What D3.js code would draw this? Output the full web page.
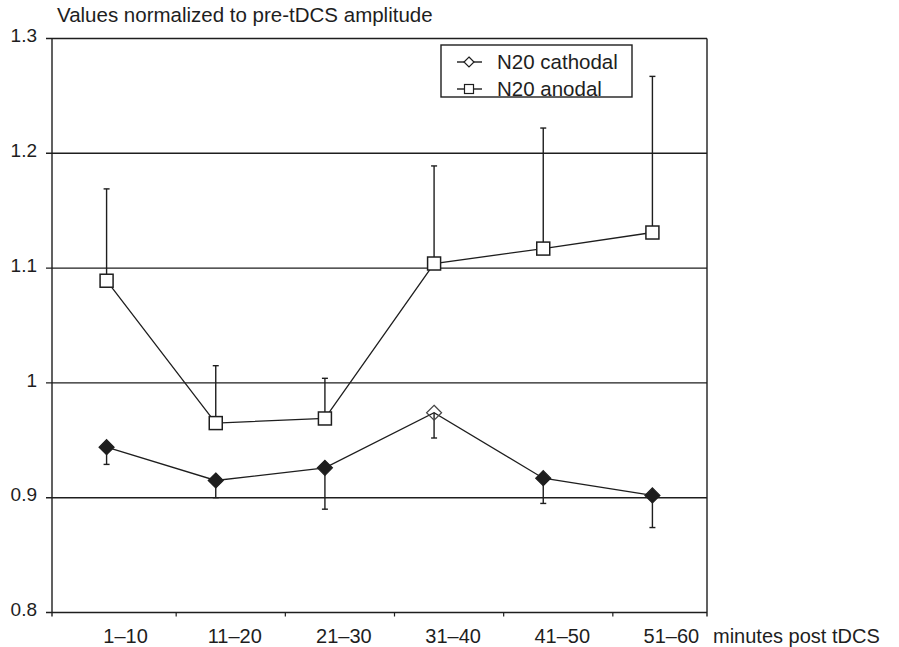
<!DOCTYPE html>
<html>
<head>
<meta charset="utf-8">
<script src="https://cdn.jsdelivr.net/npm/d3@7/dist/d3.min.js"></script>
<style>
  html, body { margin: 0; padding: 0; background: #fff; }
  svg { display: block; font-family: "Liberation Sans", Arial, sans-serif; }
</style>
</head>
<body>
<svg id="chart" width="899" height="647"></svg>
<script>
const categories = ["1–10", "11–20", "21–30", "31–40", "41–50", "51–60"];
const anodal = [1.089, 0.965, 0.969, 1.104, 1.117, 1.131];
const anodalErr = [0.080, 0.050, 0.035, 0.085, 0.105, 0.136];
const cathodal = [0.944, 0.915, 0.926, 0.974, 0.917, 0.902];
const cathodalErr = [0.015, 0.015, 0.036, 0.022, 0.022, 0.028];
const yTicks = [0.8, 0.9, 1.0, 1.1, 1.2, 1.3];
const yTickLabels = ["0.8", "0.9", "1", "1.1", "1.2", "1.3"];
const seriesNames = ["N20 cathodal", "N20 anodal"];
const yTitle = "Values normalized to pre-tDCS amplitude";
const xTitle = "minutes post tDCS";

const svg = d3.select("#chart");
const L = 52, R = 707, T = 38.5, B = 612.5;
const ink = "#1e1e1e";

const x = d3.scaleBand().domain(categories).range([L, R]);
const y = d3.scaleLinear().domain([0.8, 1.3]).range([B, T]);
const cx = c => x(c) + x.bandwidth() / 2;

// grid lines + y ticks
svg.append("g").selectAll("line").data(yTicks).join("line")
  .attr("x1", L - 6).attr("x2", R)
  .attr("y1", d => y(d)).attr("y2", d => y(d))
  .attr("stroke", ink).attr("stroke-width", 1.4);

// left and right borders
svg.append("line").attr("x1", L).attr("x2", L).attr("y1", T).attr("y2", B + 4)
  .attr("stroke", ink).attr("stroke-width", 1.4);
svg.append("line").attr("x1", R).attr("x2", R).attr("y1", T).attr("y2", B + 4)
  .attr("stroke", ink).attr("stroke-width", 1.4);

// x tick marks
const tickShift = 15;
svg.append("g").selectAll("line").data(categories.slice(0, -1)).join("line")
  .attr("x1", d => x(d) + x.bandwidth() + tickShift)
  .attr("x2", d => x(d) + x.bandwidth() + tickShift)
  .attr("y1", B).attr("y2", B + 4)
  .attr("stroke", ink).attr("stroke-width", 1.2);

// y tick labels
svg.append("g").selectAll("text").data(yTicks).join("text")
  .attr("x", 37).attr("y", d => y(d) - 3)
  .attr("dy", "0.35em")
  .attr("text-anchor", "end")
  .attr("font-size", 19).attr("fill", ink)
  .text((d, i) => yTickLabels[i]);

// x tick labels
svg.append("g").selectAll("text").data(categories).join("text")
  .attr("x", d => cx(d) + 19).attr("y", 643)
  .attr("text-anchor", "middle")
  .attr("font-size", 20).attr("fill", ink)
  .text(d => d);

svg.append("text").attr("x", 713).attr("y", 643)
  .attr("font-size", 20).attr("fill", ink).text(xTitle);
svg.append("text").attr("x", 57).attr("y", 22)
  .attr("font-size", 20.5).attr("fill", ink).text(yTitle);

const line = d3.line().x((d, i) => cx(categories[i])).y(d => y(d));

// anodal
svg.append("path").datum(anodal).attr("d", line)
  .attr("fill", "none").attr("stroke", ink).attr("stroke-width", 1.3);
// cathodal
svg.append("path").datum(cathodal).attr("d", line)
  .attr("fill", "none").attr("stroke", ink).attr("stroke-width", 1.3);

// anodal error bars (upward)
const capW = 3;
const aErr = svg.append("g");
anodal.forEach((v, i) => {
  const xc = cx(categories[i]);
  aErr.append("line").attr("x1", xc).attr("x2", xc)
    .attr("y1", y(v)).attr("y2", y(v + anodalErr[i]))
    .attr("stroke", ink).attr("stroke-width", 1.4);
  aErr.append("line").attr("x1", xc - capW).attr("x2", xc + capW)
    .attr("y1", y(v + anodalErr[i])).attr("y2", y(v + anodalErr[i]))
    .attr("stroke", ink).attr("stroke-width", 1.4);
});

// cathodal error bars (downward)
const cErr = svg.append("g");
cathodal.forEach((v, i) => {
  const xc = cx(categories[i]);
  cErr.append("line").attr("x1", xc).attr("x2", xc)
    .attr("y1", y(v)).attr("y2", y(v - cathodalErr[i]))
    .attr("stroke", ink).attr("stroke-width", 1.4);
  cErr.append("line").attr("x1", xc - capW).attr("x2", xc + capW)
    .attr("y1", y(v - cathodalErr[i])).attr("y2", y(v - cathodalErr[i]))
    .attr("stroke", ink).attr("stroke-width", 1.4);
});

// anodal squares
const sq = 13;
svg.append("g").selectAll("rect").data(anodal).join("rect")
  .attr("x", (d, i) => cx(categories[i]) - sq / 2)
  .attr("y", d => y(d) - sq / 2)
  .attr("width", sq).attr("height", sq)
  .attr("fill", "#fff").attr("stroke", ink).attr("stroke-width", 1.5);

// cathodal diamonds
const dm = 7.5;
const diamond = r => `M0,${-r}L${r},0L0,${r}L${-r},0Z`;
svg.append("g").selectAll("path").data(cathodal).join("path")
  .attr("transform", (d, i) => `translate(${cx(categories[i])},${y(d)})`)
  .attr("d", diamond(dm))
  .attr("fill", (d, i) => i === 3 ? "none" : ink)
  .attr("stroke", (d, i) => i === 3 ? "#444" : ink)
  .attr("stroke-width", 1.2);

// legend
const lg = svg.append("g");
lg.append("rect").attr("x", 441).attr("y", 45).attr("width", 191).attr("height", 52)
  .attr("fill", "#fff").attr("stroke", ink).attr("stroke-width", 1.4);
const rows = [62, 89];
rows.forEach((ry, i) => {
  lg.append("line").attr("x1", 457).attr("x2", 482).attr("y1", ry).attr("y2", ry)
    .attr("stroke", ink).attr("stroke-width", 1.4);
  if (i === 0) {
    lg.append("path").attr("transform", `translate(469,${ry})`).attr("d", diamond(5))
      .attr("fill", "#fff").attr("stroke", ink).attr("stroke-width", 1.2);
  } else {
    lg.append("rect").attr("x", 464.5).attr("y", ry - 4.5).attr("width", 9).attr("height", 9)
      .attr("fill", "#fff").attr("stroke", ink).attr("stroke-width", 1.2);
  }
  lg.append("text").attr("x", 497).attr("y", ry + 6.5)
    .attr("font-size", 20.5).attr("fill", ink).text(seriesNames[i]);
});
</script>
</body>
</html>
